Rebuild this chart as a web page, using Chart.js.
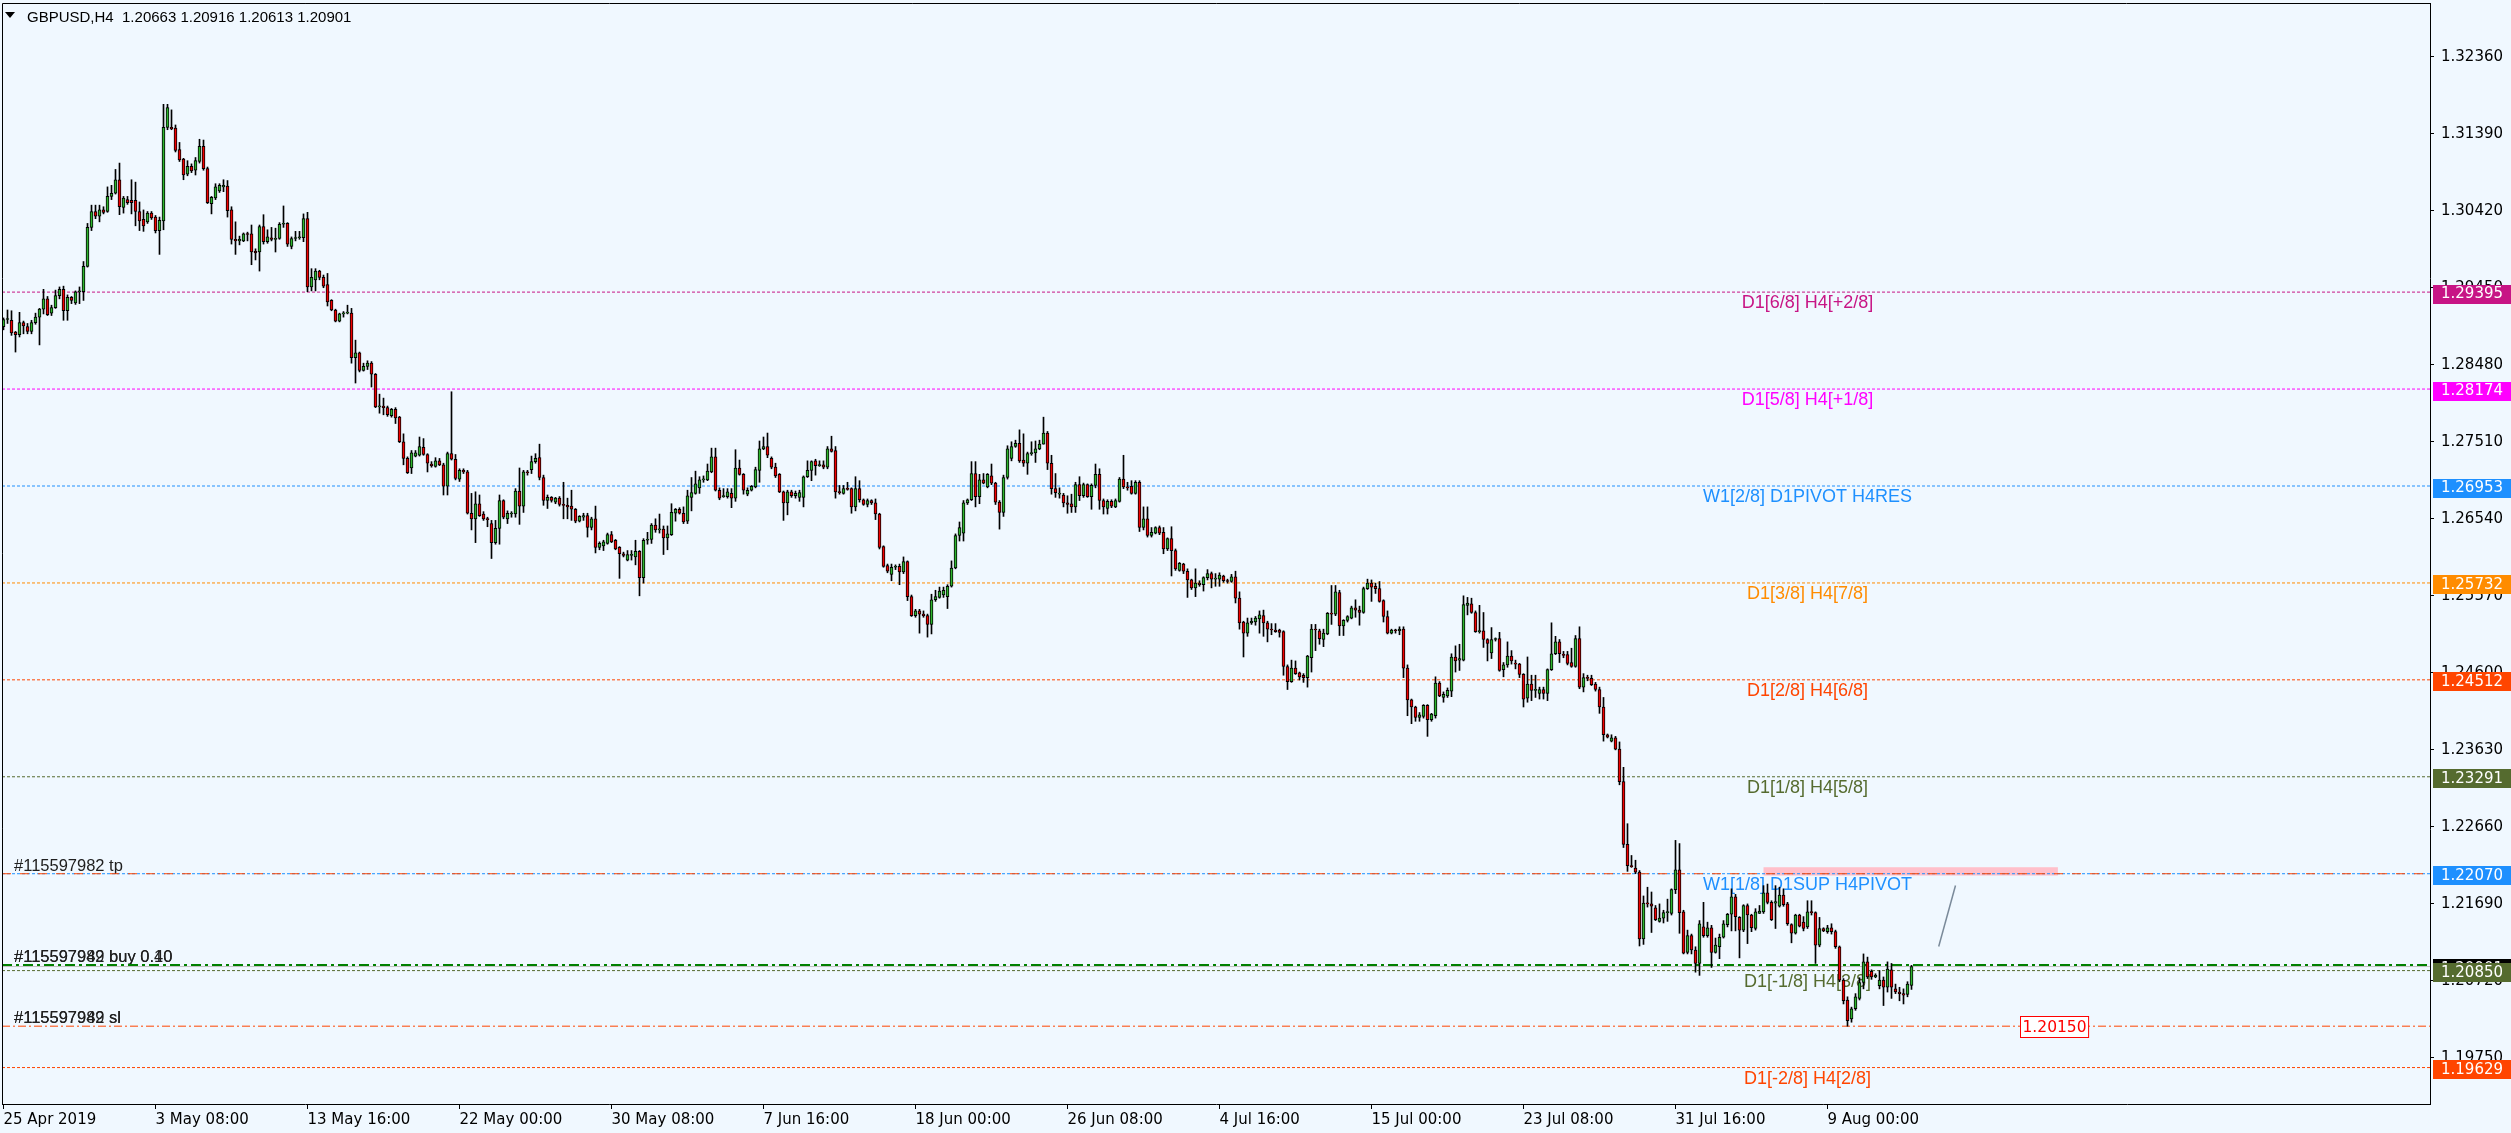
<!DOCTYPE html>
<html>
<head>
<meta charset="utf-8">
<title>GBPUSD,H4</title>
<script src="https://cdn.jsdelivr.net/npm/chart.js@4.4.1/dist/chart.umd.min.js"></script>
<style>
  html, body { margin: 0; padding: 0; background: #F0F8FF; }
  canvas { display: block; }
</style>
</head>
<body>
<canvas id="myChart" width="2511" height="1133"></canvas>
<script>
const symbol = "GBPUSD,H4";

// H4 bars from 25 Apr 2019 00:00, prices in 1/10000
const open = [
  12896,12905,12904,12889,12886,12901,12896,12890,12901,12908,
  12918,12931,12913,12920,12935,12943,12916,12933,12926,12940,
  12940,12972,13021,13041,13035,13043,13041,13060,13064,13081,
  13046,13056,13055,13055,13041,13031,13028,13039,13034,13017,
  13029,13147,13147,13146,13119,13107,13088,13098,13093,13104,
  13123,13095,13051,13058,13067,13072,13073,13043,13006,13004,
  13004,13013,13013,12991,12990,13022,13003,13008,13006,13007,
  13025,13026,12997,13007,13008,13008,13032,12946,12955,12966,
  12958,12949,12929,12917,12903,12912,12913,12913,12857,12863,
  12841,12846,12850,12836,12795,12796,12794,12784,12792,12782,
  12751,12730,12718,12733,12734,12744,12735,12723,12720,12727,
  12722,12695,12736,12729,12704,12715,12713,12661,12654,12673,
  12660,12654,12648,12624,12642,12677,12654,12660,12660,12689,
  12670,12713,12716,12726,12731,12706,12677,12681,12675,12680,
  12672,12671,12670,12666,12651,12656,12658,12643,12654,12618,
  12620,12623,12634,12627,12618,12610,12602,12608,12606,12613,
  12580,12627,12628,12646,12640,12641,12630,12634,12661,12666,
  12661,12651,12681,12686,12693,12703,12703,12713,12732,12690,
  12682,12682,12686,12680,12718,12710,12685,12690,12694,12715,
  12742,12745,12730,12719,12710,12688,12674,12688,12683,12681,
  12681,12707,12715,12727,12721,12722,12719,12742,12740,12688,
  12686,12692,12692,12669,12692,12678,12672,12677,12674,12660,
  12619,12595,12584,12593,12594,12587,12600,12556,12532,12538,
  12534,12532,12521,12552,12555,12558,12556,12569,12592,12633,
  12636,12674,12678,12711,12682,12703,12694,12708,12699,12675,
  12662,12706,12730,12745,12749,12728,12724,12736,12737,12742,
  12748,12762,12724,12692,12685,12684,12674,12673,12669,12697,
  12683,12697,12682,12696,12710,12677,12667,12676,12669,12676,
  12704,12694,12695,12686,12700,12643,12654,12633,12636,12643,
  12637,12616,12629,12614,12589,12597,12588,12577,12567,12573,
  12571,12580,12585,12578,12578,12582,12576,12575,12581,12554,
  12524,12510,12523,12524,12528,12532,12523,12515,12514,12514,
  12512,12468,12449,12466,12460,12457,12454,12479,12515,12513,
  12502,12509,12535,12534,12561,12519,12526,12529,12542,12539,
  12536,12566,12573,12569,12566,12551,12531,12510,12514,12513,
  12515,12466,12426,12417,12404,12405,12419,12401,12406,12447,
  12429,12431,12437,12480,12476,12476,12545,12547,12536,12512,
  12513,12502,12485,12502,12503,12464,12470,12481,12472,12471,
  12458,12428,12446,12438,12434,12439,12434,12464,12484,12499,
  12483,12483,12473,12468,12503,12442,12454,12453,12446,12439,
  12417,12382,12374,12378,12364,12323,12244,12217,12214,12209,
  12125,12170,12169,12164,12147,12151,12158,12157,12187,12212,
  12159,12108,12129,12111,12094,12140,12129,12139,12108,12115,
  12127,12143,12156,12178,12152,12136,12167,12155,12138,12157,
  12159,12183,12171,12170,12166,12180,12169,12143,12132,12155,
  12146,12140,12159,12158,12117,12138,12134,12139,12134,12115,
  12073,12048,12024,12037,12050,12070,12096,12084,12077,12066,
  12073,12064,12086,12062,12058,12056,12055,12066.3
];
const high = [
  12907,12917,12916,12890,12914,12903,12900,12904,12913,12919,
  12943,12934,12923,12942,12946,12947,12936,12934,12941,12946,
  12978,13026,13049,13049,13049,13047,13072,13074,13094,13102,
  13060,13060,13081,13078,13053,13043,13041,13041,13036,13034,
  13176,13176,13169,13150,13128,13108,13105,13101,13109,13132,
  13131,13097,13060,13076,13076,13081,13080,13047,13028,13010,
  13014,13015,13024,12994,13024,13037,13018,13021,13020,13027,
  13048,13027,13009,13016,13016,13038,13040,12969,12969,12967,
  12961,12963,12930,12918,12913,12915,12923,12919,12879,12864,
  12850,12853,12852,12837,12811,12806,12796,12793,12794,12783,
  12761,12732,12740,12740,12757,12755,12736,12726,12731,12730,
  12724,12738,12814,12735,12717,12717,12715,12686,12688,12684,
  12663,12656,12652,12652,12684,12678,12664,12663,12692,12718,
  12715,12715,12733,12736,12748,12709,12684,12682,12681,12682,
  12700,12680,12690,12667,12658,12661,12661,12656,12670,12625,
  12627,12636,12638,12628,12619,12612,12614,12614,12627,12614,
  12629,12637,12648,12654,12660,12645,12645,12673,12667,12668,
  12669,12690,12706,12714,12707,12708,12723,12743,12743,12693,
  12692,12692,12692,12741,12728,12711,12693,12696,12719,12752,
  12757,12762,12732,12724,12711,12689,12690,12690,12689,12690,
  12708,12727,12727,12729,12727,12727,12745,12758,12745,12696,
  12696,12700,12693,12707,12702,12679,12679,12678,12679,12661,
  12620,12597,12597,12596,12597,12606,12601,12558,12540,12540,
  12538,12534,12559,12564,12568,12568,12571,12601,12635,12650,
  12677,12679,12726,12726,12710,12711,12711,12723,12700,12677,
  12709,12746,12751,12753,12766,12761,12738,12751,12752,12753,
  12782,12764,12734,12711,12693,12686,12683,12685,12700,12707,
  12699,12698,12698,12723,12717,12679,12678,12678,12679,12706,
  12734,12700,12702,12702,12702,12669,12669,12643,12644,12645,
  12643,12630,12644,12616,12599,12598,12591,12578,12591,12576,
  12581,12590,12587,12585,12586,12583,12578,12584,12588,12562,
  12525,12529,12529,12531,12538,12539,12525,12522,12522,12515,
  12513,12470,12476,12475,12461,12459,12482,12521,12521,12515,
  12515,12536,12570,12570,12564,12527,12532,12544,12552,12544,
  12568,12578,12577,12573,12575,12552,12538,12515,12515,12518,
  12518,12470,12427,12418,12410,12420,12420,12409,12455,12449,
  12436,12441,12484,12494,12496,12557,12555,12554,12538,12545,
  12536,12503,12517,12504,12511,12473,12499,12488,12476,12472,
  12459,12480,12457,12457,12442,12442,12465,12523,12506,12502,
  12487,12487,12491,12507,12518,12459,12457,12457,12448,12442,
  12429,12383,12382,12380,12373,12341,12270,12230,12224,12211,
  12179,12190,12184,12167,12169,12161,12175,12188,12249,12245,
  12161,12136,12131,12115,12148,12171,12146,12142,12126,12131,
  12148,12157,12188,12181,12153,12168,12169,12156,12163,12167,
  12192,12194,12173,12192,12190,12188,12171,12144,12156,12156,
  12153,12173,12173,12159,12152,12139,12142,12144,12136,12116,
  12075,12052,12039,12056,12076,12106,12102,12086,12081,12085,
  12077,12096,12094,12068,12064,12062,12071,12091.6
];
const low = [
  12892,12900,12885,12864,12883,12887,12887,12887,12899,12873,
  12912,12910,12910,12919,12931,12904,12904,12925,12924,12925,
  12929,12971,13017,13032,13028,13038,13040,13056,13063,13037,
  13039,13050,13038,13023,13017,13016,13026,13031,13014,12987,
  13018,13144,13144,13116,13104,13081,13086,13090,13087,13102,
  13093,13051,13038,13056,13065,13066,13034,13000,12987,12999,
  13003,13004,12974,12980,12966,13000,13001,13004,12990,13006,
  13021,12997,12994,13004,13006,13003,12940,12941,12941,12955,
  12945,12922,12916,12902,12902,12908,12912,12850,12825,12839,
  12840,12842,12820,12794,12787,12785,12783,12782,12774,12750,
  12722,12711,12711,12732,12733,12734,12713,12719,12719,12721,
  12684,12684,12728,12703,12701,12711,12660,12640,12624,12657,
  12652,12644,12604,12622,12622,12654,12648,12656,12656,12647,
  12662,12709,12711,12724,12703,12671,12667,12675,12673,12670,
  12654,12654,12652,12649,12650,12652,12631,12640,12611,12615,
  12614,12622,12624,12615,12579,12606,12601,12602,12596,12557,
  12573,12622,12623,12637,12636,12609,12615,12633,12651,12660,
  12648,12648,12664,12685,12686,12700,12702,12712,12689,12678,
  12681,12680,12668,12676,12709,12685,12683,12689,12693,12700,
  12741,12731,12717,12706,12687,12652,12659,12681,12680,12676,
  12669,12706,12702,12709,12720,12717,12717,12738,12680,12685,
  12685,12690,12661,12664,12675,12671,12669,12672,12653,12616,
  12593,12586,12576,12590,12571,12585,12551,12531,12530,12510,
  12530,12505,12509,12550,12554,12555,12541,12568,12591,12626,
  12626,12672,12677,12669,12673,12698,12693,12697,12672,12641,
  12657,12704,12727,12744,12725,12720,12710,12734,12725,12741,
  12748,12716,12685,12681,12680,12669,12661,12662,12662,12677,
  12681,12681,12666,12693,12666,12660,12660,12668,12668,12675,
  12692,12690,12685,12685,12638,12640,12631,12631,12635,12634,
  12610,12614,12582,12589,12588,12585,12555,12565,12556,12569,
  12563,12577,12567,12569,12569,12574,12573,12574,12548,12515,
  12480,12506,12521,12520,12510,12506,12499,12508,12511,12505,
  12457,12439,12448,12458,12451,12448,12442,12461,12488,12496,
  12493,12508,12521,12532,12507,12507,12524,12528,12530,12520,
  12535,12565,12550,12560,12549,12524,12509,12509,12510,12508,
  12454,12406,12396,12399,12399,12403,12380,12399,12403,12430,
  12423,12429,12430,12461,12463,12475,12533,12535,12511,12510,
  12492,12475,12478,12500,12462,12455,12467,12471,12465,12454,
  12417,12423,12425,12429,12427,12427,12425,12463,12483,12473,
  12479,12470,12467,12467,12440,12436,12450,12444,12437,12409,
  12374,12378,12373,12363,12319,12240,12210,12215,12207,12116,
  12118,12165,12133,12148,12146,12145,12147,12155,12182,12132,
  12106,12106,12106,12083,12079,12127,12127,12089,12107,12100,
  12126,12140,12135,12135,12101,12134,12119,12134,12136,12157,
  12157,12169,12148,12138,12165,12166,12142,12120,12131,12140,
  12135,12138,12155,12094,12115,12134,12132,12131,12113,12071,
  12043,12015,12020,12035,12048,12062,12075,12074,12076,12062,
  12041,12058,12050,12056,12047,12043,12052,12061.3
];
const close = [
  12905,12906,12888,12886,12901,12897,12890,12901,12908,12918,
  12931,12911,12920,12935,12943,12916,12933,12929,12940,12941,
  12972,13021,13041,13035,13043,13040,13060,13064,13081,13047,
  13058,13052,13052,13041,13029,13023,13039,13033,13017,13030,
  13147,13172,13145,13118,13106,13087,13098,13092,13105,13123,
  13095,13052,13059,13072,13074,13074,13042,13006,13004,13006,
  13013,13012,12990,12989,13022,13003,13009,13006,13007,13025,
  13026,13000,13007,13008,13008,13032,12946,12958,12966,12958,
  12947,12927,12917,12903,12912,12913,12913,12857,12863,12841,
  12846,12850,12836,12795,12796,12794,12785,12792,12781,12751,
  12730,12712,12737,12737,12745,12735,12724,12721,12727,12722,
  12695,12736,12729,12705,12715,12713,12661,12654,12673,12658,
  12654,12653,12624,12642,12677,12656,12661,12661,12689,12670,
  12713,12712,12726,12730,12706,12677,12681,12677,12680,12672,
  12671,12669,12666,12651,12657,12658,12643,12654,12618,12623,
  12625,12634,12625,12616,12610,12608,12609,12608,12613,12580,
  12627,12628,12646,12640,12641,12630,12635,12662,12666,12661,
  12650,12683,12687,12698,12703,12704,12714,12732,12690,12680,
  12683,12688,12680,12718,12710,12690,12690,12695,12716,12742,
  12745,12734,12719,12708,12688,12674,12688,12683,12686,12687,
  12707,12715,12726,12721,12722,12719,12742,12739,12688,12687,
  12692,12691,12669,12692,12678,12672,12677,12674,12660,12618,
  12594,12588,12593,12594,12587,12600,12556,12532,12538,12534,
  12532,12521,12552,12556,12563,12564,12569,12592,12633,12643,
  12674,12678,12711,12682,12703,12699,12710,12699,12675,12662,
  12706,12742,12745,12749,12727,12724,12736,12737,12742,12748,
  12762,12724,12692,12687,12685,12674,12672,12669,12697,12683,
  12697,12682,12696,12710,12677,12669,12676,12670,12677,12704,
  12694,12693,12686,12700,12643,12654,12633,12637,12643,12636,
  12616,12629,12614,12591,12598,12588,12577,12567,12573,12571,
  12580,12585,12578,12579,12583,12576,12575,12581,12554,12523,
  12510,12523,12525,12529,12533,12523,12515,12514,12512,12511,
  12468,12449,12466,12459,12455,12454,12481,12515,12514,12503,
  12510,12535,12534,12562,12519,12526,12531,12542,12539,12536,
  12566,12573,12568,12566,12550,12531,12510,12514,12513,12515,
  12466,12426,12417,12404,12407,12419,12401,12408,12447,12431,
  12433,12438,12480,12475,12478,12546,12548,12536,12512,12513,
  12502,12497,12502,12503,12463,12470,12481,12475,12471,12458,
  12427,12446,12438,12438,12439,12434,12464,12484,12499,12484,
  12482,12472,12468,12503,12442,12454,12453,12445,12439,12417,
  12382,12379,12378,12364,12323,12244,12217,12216,12209,12125,
  12170,12169,12166,12149,12151,12158,12158,12187,12212,12158,
  12107,12129,12111,12094,12144,12129,12139,12108,12117,12127,
  12144,12156,12178,12153,12136,12167,12155,12139,12159,12160,
  12183,12171,12149,12172,12180,12168,12144,12132,12155,12141,
  12138,12159,12158,12117,12138,12135,12139,12134,12115,12073,
  12047,12022,12037,12052,12070,12096,12077,12077,12079,12073,
  12064,12087,12064,12058,12056,12054,12068,12090.1
];

// time axis: one label every 38 bars
const tickBars = [0, 38, 76, 114, 152, 190, 228, 266, 304, 342, 380, 418, 456];
const tickLabels = ['25 Apr 2019', '3 May 08:00', '13 May 16:00', '22 May 00:00', '30 May 08:00',
  '7 Jun 16:00', '18 Jun 00:00', '26 Jun 08:00', '4 Jul 16:00', '15 Jul 00:00',
  '23 Jul 08:00', '31 Jul 16:00', '9 Aug 00:00'];
const priceTicks = [1.19750, 1.20720, 1.21690, 1.22660, 1.23630, 1.24600, 1.25570,
  1.26540, 1.27510, 1.28480, 1.29450, 1.30420, 1.31390, 1.32360];

// murrey / pivot levels
const levelPrices = [1.29395, 1.28174, 1.26953, 1.25732, 1.24512, 1.23291, 1.22070, 1.20850, 1.19629];
const levelNames = ['D1[6/8] H4[+2/8]', 'D1[5/8] H4[+1/8]', 'W1[2/8] D1PIVOT H4RES', 'D1[3/8] H4[7/8]',
  'D1[2/8] H4[6/8]', 'D1[1/8] H4[5/8]', 'W1[1/8] D1SUP H4PIVOT', 'D1[-1/8] H4[3/8]', 'D1[-2/8] H4[2/8]'];
const levelColors = ['#C71585', '#FF00FF', '#1E90FF', '#FF8C00', '#FF4500', '#556B2F', '#1E90FF', '#556B2F', '#FF4500'];

// open orders
const tickets = ['#115597982', '#115597949'];
const lots = ['0.40', '0.10'];
const buyPrice = 1.20920;
const tpPrice = 1.22070;
const slPrice = 1.20150;

// drawn objects
const zoneBars = [440, 513.6];
const zonePrices = [1.22047, 1.22152];
const trendBars = [483.8, 488];
const trendPrices = [1.21153, 1.21922];
const slLabelBar = 504;
const labelBar = 451;

const bg = '#F0F8FF';
const bull = '#2DB52D';
const bear = '#F00000';
const axisFont = "'DejaVu Sans', Tahoma, sans-serif";
const headFont = "15px 'Liberation Sans', Tahoma, sans-serif";
const levelFont = "18px 'Liberation Sans', Arial, sans-serif";
const orderFont = "16.5px 'Liberation Sans', Arial, sans-serif";
const xMin = -0.375, xMax = 606.625;

const last = close.length - 1;
const bid = close[last] / 1e4;
const bars = close.map((c, i) => i);

const bodies = bars.map(i => ({ x: i, y: [open[i] / 1e4, close[i] / 1e4] }));
const wicks = bars.map(i => ({ x: i, y: [low[i] / 1e4, high[i] / 1e4] }));
const bodyColors = bars.map(i => (close[i] >= open[i] ? bull : bear));

function hline(price, color, dash, width, order) {
  return {
    type: 'line',
    data: [{ x: xMin, y: price }, { x: xMax, y: price }],
    borderColor: color,
    borderWidth: width || 1,
    borderDash: dash,
    pointRadius: 0,
    order: order || 10,
  };
}

const datasets = [
  {
    type: 'bar', data: bodies, backgroundColor: bodyColors, borderColor: '#000',
    borderWidth: 1, borderSkipped: false, barThickness: 3, minBarLength: 1, grouped: false, order: 0,
  },
  {
    type: 'bar', data: wicks, backgroundColor: '#000', borderWidth: 0,
    barThickness: 1, grouped: false, order: 1,
  },
];
levelPrices.forEach((p, i) => datasets.push(hline(p, levelColors[i], [3, 2])));
datasets.push(hline(tpPrice, '#FF4500', [9, 9], 1, 9));
datasets.push(hline(slPrice, '#FF4500', [8, 3, 2, 3], 1, 9));
datasets.push(hline(bid, '#C0C0C0', [], 1, 8));
datasets.push(hline(buyPrice, '#008000', [10, 4, 3, 4], 2, 7));
datasets.push({
  type: 'line',
  data: trendBars.map((b, i) => ({ x: b, y: trendPrices[i] })),
  borderColor: '#7A8A9A', borderWidth: 1.5, pointRadius: 0, order: 6,
});

const overlay = {
  id: 'overlay',
  beforeDraw(chart) {
    const c = chart.ctx;
    c.save();
    c.fillStyle = bg;
    c.fillRect(0, 0, chart.width, chart.height);
    c.restore();
  },
  beforeDatasetsDraw(chart) {
    const c = chart.ctx;
    const { x, y } = chart.scales;
    c.save();
    // pink zone
    const x0 = x.getPixelForValue(zoneBars[0]);
    const x1 = x.getPixelForValue(zoneBars[1]);
    const y0 = y.getPixelForValue(zonePrices[1]);
    const y1 = y.getPixelForValue(zonePrices[0]);
    c.fillStyle = '#FFC0CB';
    c.fillRect(x0, y0, x1 - x0, y1 - y0);

    c.font = levelFont;
    c.textBaseline = 'alphabetic';
    c.textAlign = 'center';
    levelPrices.forEach((p, i) => {
      c.fillStyle = levelColors[i];
      c.fillText(levelNames[i], x.getPixelForValue(labelBar), y.getPixelForValue(p) + 16);
    });

    c.font = orderFont;
    c.textAlign = 'left';
    c.fillStyle = '#202020';
    const ox = chart.chartArea.left + 12;
    c.fillText(tickets[0] + ' tp', ox, y.getPixelForValue(tpPrice) - 3);
    tickets.forEach((t, i) => {
      c.fillText(t + ' buy ' + lots[i], ox, y.getPixelForValue(buyPrice) - 3);
      c.fillText(t + ' sl', ox, y.getPixelForValue(slPrice) - 3);
    });
    c.restore();
  },
  afterDatasetsDraw(chart) {
    const c = chart.ctx;
    const { x, y } = chart.scales;
    c.save();
    c.font = '15.5px ' + axisFont;
    const txt = slPrice.toFixed(5);
    const w = c.measureText(txt).width + 4;
    const bx = Math.round(x.getPixelForValue(slLabelBar)) + 0.5;
    const by = Math.round(y.getPixelForValue(slPrice) - 10) + 0.5;
    c.fillStyle = '#FFFFFF';
    c.fillRect(bx, by, w, 21);
    c.strokeStyle = '#FF0000';
    c.lineWidth = 1;
    c.strokeRect(bx, by, w, 21);
    c.fillStyle = '#FF0000';
    c.textBaseline = 'middle';
    c.fillText(txt, bx + 2, by + 11);
    c.restore();
  },
  afterDraw(chart) {
    const c = chart.ctx;
    const { left, top, right, bottom } = chart.chartArea;
    const y = chart.scales.y;
    c.save();
    // frame
    c.strokeStyle = '#000';
    c.lineWidth = 1;
    c.beginPath();
    c.moveTo(left + 0.5, bottom);
    c.lineTo(left + 0.5, top + 0.5);
    c.lineTo(right, top + 0.5);
    c.stroke();

    // price labels on the right
    const tags = levelPrices.map((p, i) => ({ p, col: levelColors[i] }));
    tags.splice(7, 0, { p: bid, col: '#000000' });
    c.font = '15px ' + axisFont;
    c.textBaseline = 'middle';
    c.textAlign = 'left';
    tags.forEach(t => {
      const cy = y.getPixelForValue(t.p) + 2;
      c.fillStyle = t.col;
      c.fillRect(right + 3, Math.round(cy - 9.5), chart.width - right - 3, 19);
      c.fillStyle = '#FFFFFF';
      c.fillText(t.p.toFixed(5), right + 11, cy + 0.5);
    });

    // header
    c.fillStyle = '#000';
    c.beginPath();
    c.moveTo(5, 12);
    c.lineTo(15, 12);
    c.lineTo(10, 18);
    c.closePath();
    c.fill();
    c.font = headFont;
    c.textBaseline = 'alphabetic';
    const head = symbol + '  ' + [open[last], high[last], low[last], close[last]]
      .map(v => (v / 1e4).toFixed(5)).join(' ');
    c.fillText(head, 27, 22);
    c.restore();
  },
};

const ctx = document.querySelector('#myChart').getContext('2d');
const chart = new Chart(ctx, {
  type: 'bar',
  data: { datasets },
  options: {
    responsive: false,
    animation: false,
    devicePixelRatio: 1,
    layout: { padding: { left: 2, top: 3, right: 0, bottom: 0 } },
    plugins: { legend: { display: false }, tooltip: { enabled: false } },
    scales: {
      x: {
        type: 'linear',
        min: xMin,
        max: xMax,
        offset: false,
        grid: { offset: false, drawOnChartArea: false, drawTicks: true, tickLength: 5, color: '#000' },
        border: { display: true, color: '#000', width: 1 },
        ticks: {
          align: 'start', autoSkip: false, maxRotation: 0, minRotation: 0, padding: 2,
          color: '#000', font: { family: axisFont, size: 15 },
          callback: (v, i) => tickLabels[i],
        },
        afterBuildTicks: s => { s.ticks = tickBars.map(v => ({ value: v })); },
        afterFit: s => { s.height = 29; s.paddingLeft = 0; s.paddingRight = 0; },
      },
      y: {
        position: 'right',
        min: 1.19170,
        max: 1.33036,
        grid: { drawOnChartArea: false, drawTicks: true, tickLength: 4, color: '#000' },
        border: { display: true, color: '#000', width: 1 },
        ticks: {
          padding: 7, color: '#000', font: { family: axisFont, size: 15 },
          callback: v => v.toFixed(5),
        },
        afterBuildTicks: s => { s.ticks = priceTicks.map(v => ({ value: v })); },
        afterFit: s => { s.width = 81; s.paddingTop = 0; s.paddingBottom = 0; },
      },
    },
  },
  plugins: [overlay],
});
</script>
</body>
</html>
